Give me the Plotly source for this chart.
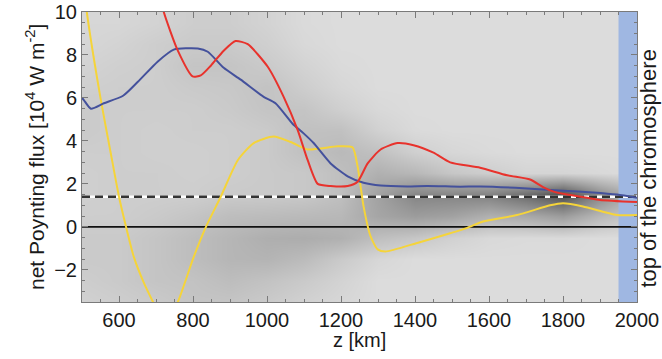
import plotly.graph_objects as go

# ---- data ----
blue_z = [500, 505, 524, 559, 611, 651, 705, 748, 813, 840, 883, 929, 991, 1023, 1069, 1099, 1126,
          1172, 1218, 1261, 1307, 1379, 1433, 1522, 1576, 1692, 1800, 1880, 1946, 2000]
blue_f = [6.0, 5.9, 5.5, 5.75, 6.1, 6.75, 7.7, 8.25, 8.3, 8.15, 7.4, 6.85, 6.05, 5.75, 4.8, 4.35, 3.9,
          2.95, 2.35, 2.05, 1.92, 1.88, 1.9, 1.87, 1.88, 1.8, 1.68, 1.6, 1.5, 1.35]

red_z = [700, 721, 759, 799, 821, 848, 883, 915, 948, 1002, 1045, 1083, 1110, 1137, 1172, 1218, 1245,
         1272, 1307, 1353, 1396, 1450, 1495, 1576, 1649, 1711, 1746, 1773, 1811, 1865, 1900, 2000]
red_f = [11.5, 10.0, 8.2, 7.0, 7.05, 7.5, 8.2, 8.65, 8.5, 7.45, 6.05, 4.5, 3.1, 2.0, 1.9, 1.9, 2.1,
         2.95, 3.6, 3.9, 3.8, 3.45, 3.0, 2.75, 2.4, 2.2, 1.85, 1.65, 1.5, 1.35, 1.25, 1.15]

yel_z = [500, 513, 551, 578, 600, 619, 640, 667, 692, 725, 759, 802, 835, 875, 921, 964, 1018, 1064,
         1110, 1145, 1191, 1231, 1245, 1261, 1280, 1299, 1320, 1406, 1495, 1541, 1584, 1676, 1765,
         1800, 1854, 1908, 1946, 2000]
yel_f = [12.0, 10.0, 5.9, 3.4, 1.4, 0.0, -1.4, -2.6, -3.5, -4.6, -3.5, -1.4, 0.0, 1.4, 3.1, 3.9, 4.2, 3.95,
         3.6, 3.65, 3.75, 3.7, 2.8, 0.95, -0.45, -1.05, -1.15, -0.75, -0.3, -0.05, 0.25, 0.55, 1.0,
         1.1, 0.95, 0.7, 0.55, 0.55]

# background density (0 = empty, 1 = dense), rows = flux bins, cols = height bins
dens_z = [500, 600, 700, 800, 900, 1000, 1100, 1200, 1300, 1400, 1500, 1600, 1700, 1800, 1900, 2000]
dens_f = [-3.5, -2.5, -1.5, -0.5, 0.5, 1.5, 2.5, 3.5, 4.5, 5.5, 6.5, 7.5, 8.5, 9.5]
density = [
    [0.06, 0.08, 0.10, 0.13, 0.13, 0.10, 0.06, 0.03, 0, 0, 0, 0, 0, 0, 0, 0],
    [0.08, 0.10, 0.13, 0.14, 0.17, 0.14, 0.10, 0.05, 0, 0, 0, 0, 0, 0, 0, 0],
    [0.10, 0.10, 0.13, 0.17, 0.21, 0.22, 0.18, 0.10, 0.03, 0, 0, 0, 0, 0, 0, 0],
    [0.10, 0.10, 0.13, 0.17, 0.21, 0.25, 0.26, 0.24, 0.16, 0.12, 0.06, 0.02, 0.01, 0.01, 0, 0],
    [0.08, 0.08, 0.10, 0.13, 0.17, 0.18, 0.19, 0.20, 0.30, 0.35, 0.32, 0.24, 0.28, 0.35, 0.20, 0.10],
    [0.07, 0.08, 0.08, 0.08, 0.10, 0.10, 0.11, 0.16, 0.32, 0.48, 0.48, 0.50, 0.62, 0.78, 0.45, 0.20],
    [0.07, 0.08, 0.08, 0.07, 0.08, 0.10, 0.11, 0.16, 0.24, 0.20, 0.12, 0.08, 0.04, 0.04, 0.02, 0],
    [0.08, 0.08, 0.07, 0.07, 0.08, 0.10, 0.15, 0.19, 0.15, 0.07, 0.03, 0.01, 0, 0, 0, 0],
    [0.10, 0.08, 0.07, 0.08, 0.08, 0.10, 0.15, 0.15, 0.06, 0.01, 0, 0, 0, 0, 0, 0],
    [0.10, 0.08, 0.08, 0.08, 0.10, 0.13, 0.13, 0.07, 0.02, 0, 0, 0, 0, 0, 0, 0],
    [0.07, 0.08, 0.08, 0.10, 0.11, 0.14, 0.08, 0.03, 0, 0, 0, 0, 0, 0, 0, 0],
    [0.05, 0.07, 0.08, 0.13, 0.13, 0.10, 0.05, 0.01, 0, 0, 0, 0, 0, 0, 0, 0],
    [0.03, 0.05, 0.08, 0.10, 0.10, 0.07, 0.02, 0, 0, 0, 0, 0, 0, 0, 0, 0],
    [0.03, 0.03, 0.05, 0.08, 0.08, 0.05, 0.01, 0, 0, 0, 0, 0, 0, 0, 0, 0],
]

mean_level = 1.4           # dashed reference level
chromo_top = [1950, 2000]  # shaded region
x_range = [500, 2000]
y_range = [-3.5, 10]
x_ticks = [600, 800, 1000, 1200, 1400, 1600, 1800, 2000]
y_ticks = [-2, 0, 2, 4, 6, 8, 10]

FONT = "Liberation Sans, Arial, sans-serif"
TXT = "#1a1a1a"
AX = "#7a7a7a"

fig = go.Figure()
fig.add_trace(go.Heatmap(x=dens_z, y=dens_f, z=density, zmin=0, zmax=1, zsmooth="best",
                         colorscale=[[0, "#dcdcdc"], [1, "#262626"]], showscale=False,
                         hoverinfo="skip"))
fig.add_trace(go.Scatter(x=[chromo_top[0], chromo_top[1], chromo_top[1], chromo_top[0]],
                         y=[y_range[0], y_range[0], y_range[1], y_range[1]],
                         fill="toself", fillcolor="#9fb7e2", line=dict(width=0),
                         mode="lines", showlegend=False, hoverinfo="skip"))
fig.add_trace(go.Scatter(x=x_range, y=[0, 0], mode="lines",
                         line=dict(color="#111111", width=1.8), showlegend=False))
fig.add_trace(go.Scatter(x=x_range, y=[mean_level] * 2, mode="lines",
                         line=dict(color="#ffffff", width=2.5), showlegend=False))
fig.add_trace(go.Scatter(x=x_range, y=[mean_level] * 2, mode="lines",
                         line=dict(color="#333333", width=2.5, dash="8px,5px"), showlegend=False))

fig.add_trace(go.Scatter(x=yel_z, y=yel_f, mode="lines",
                         line=dict(color="#f5d43a", width=2, shape="spline", smoothing=0.6),
                         showlegend=False))
fig.add_trace(go.Scatter(x=blue_z, y=blue_f, mode="lines",
                         line=dict(color="#44519c", width=2, shape="spline", smoothing=0.6),
                         showlegend=False))
fig.add_trace(go.Scatter(x=red_z, y=red_f, mode="lines",
                         line=dict(color="#e8322c", width=2, shape="spline", smoothing=0.6),
                         showlegend=False))

axis_common = dict(showgrid=False, zeroline=False, showline=True, linecolor=AX,
                   linewidth=1, mirror="ticks", ticks="inside", tickcolor=AX,
                   ticklen=6, tickwidth=1, automargin=False,
                   tickfont=dict(family=FONT, size=20, color=TXT))

fig.update_xaxes(range=x_range, tickvals=x_ticks, **axis_common,
                 minor=dict(dtick=50, ticks="inside", ticklen=3, tickcolor=AX))
fig.update_yaxes(range=y_range, tickvals=y_ticks, **axis_common,
                 minor=dict(dtick=0.5, ticks="inside", ticklen=3, tickcolor=AX))

fig.add_annotation(text="z [km]", xref="paper", yref="paper", x=0.5, y=0,
                   xanchor="center", yanchor="middle", yshift=-38, showarrow=False,
                   font=dict(family=FONT, size=20, color=TXT))
fig.add_annotation(text="net Poynting flux [10<sup>4</sup> W m<sup>-2</sup>]",
                   xref="paper", yref="paper", x=0, y=0.5, xanchor="center", yanchor="middle",
                   xshift=-47, textangle=-90, showarrow=False,
                   font=dict(family=FONT, size=21, color=TXT))
fig.add_annotation(text="top of the chromosphere", xref="paper", yref="paper",
                   x=1, y=0.46, xanchor="center", yanchor="middle", xshift=12,
                   textangle=-90, showarrow=False,
                   font=dict(family=FONT, size=22, color=TXT))

fig.update_layout(width=662, height=359, margin=dict(l=82, r=25, t=12, b=57),
                  paper_bgcolor="white", plot_bgcolor="#dcdcdc", showlegend=False)

fig.write_html("out.html", config={"displayModeBar": False},
               post_script="document.body.style.margin='0px';document.body.style.overflow='hidden';")
